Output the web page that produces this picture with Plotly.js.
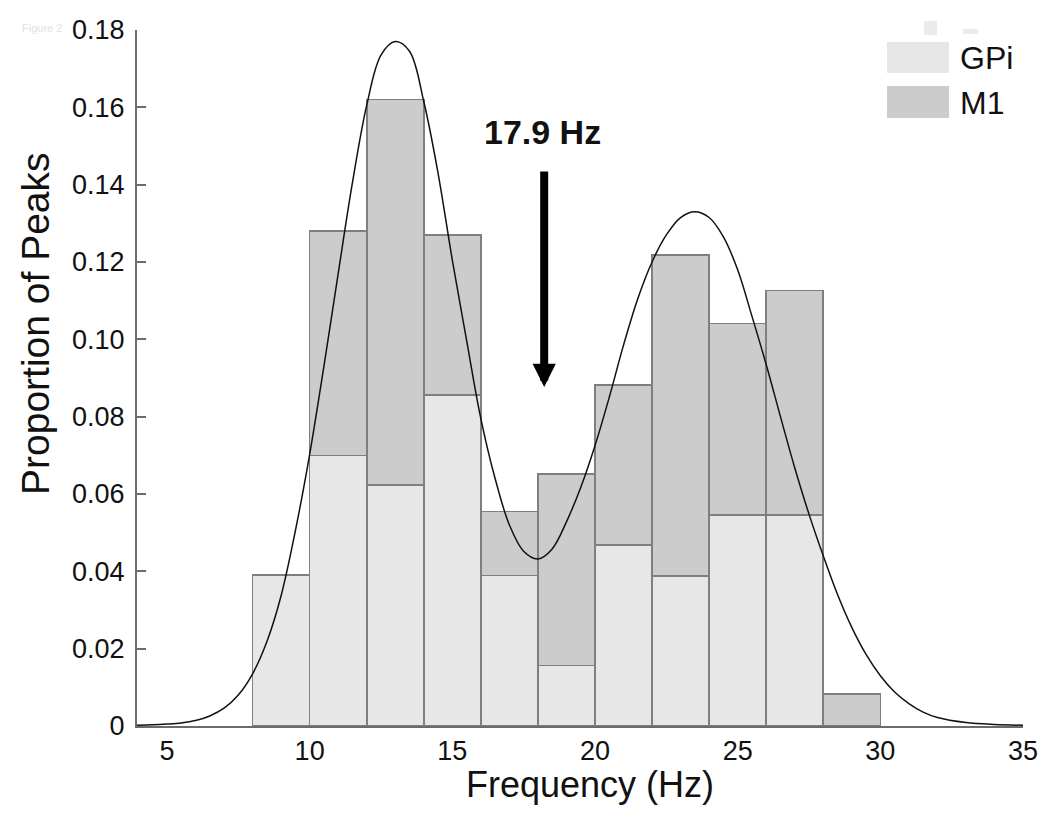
<!DOCTYPE html>
<html>
<head>
<meta charset="utf-8">
<script src="https://cdn.plot.ly/plotly-3.0.1.min.js"></script>
<style>html,body{margin:0;padding:0;background:#fff;}#chart{width:1050px;height:820px;}</style>
</head>
<body>
<div id="chart"></div>
<script>
// Histogram bins (bin centres, 2 Hz wide)
const binCenters = [9, 11, 13, 15, 17, 19, 21, 23, 25, 27, 29];
// Stacked proportions
const gpiValues = [0.039, 0.070, 0.0623, 0.0856, 0.0389, 0.0156, 0.0468, 0.0388, 0.0546, 0.0546, 0];
const m1Values  = [0, 0.058, 0.0997, 0.0414, 0.0166, 0.0496, 0.0414, 0.083, 0.0495, 0.058, 0.0083];

// Fitted density curve
const curveX = [3.95, 4.5, 5.0, 5.5, 6.0, 6.5, 7.0, 7.5, 8.0, 8.5, 9.0, 9.5, 10.0, 10.5, 11.0, 11.5, 12.0, 12.5, 13.0, 13.5, 14.0, 14.5, 15.0, 15.5, 16.0, 16.5, 17.0, 17.5, 18.0, 18.5, 19.0, 19.5, 20.0, 20.5, 21.0, 21.5, 22.0, 22.5, 23.0, 23.5, 24.0, 24.5, 25.0, 25.5, 26.0, 26.5, 27.0, 27.5, 28.0, 28.5, 29.0, 29.5, 30.0, 30.5, 31.0, 31.5, 32.0, 33.0, 34.0, 35.0];
const curveY = [0.0002, 0.0003, 0.0005, 0.0008, 0.0014, 0.0026, 0.0046, 0.0080, 0.0135, 0.0218, 0.0337, 0.0505, 0.0702, 0.0930, 0.1170, 0.1405, 0.1605, 0.1735, 0.1770, 0.1745, 0.1615, 0.1430, 0.1205, 0.0998, 0.0795, 0.0640, 0.0520, 0.0452, 0.0432, 0.0458, 0.0528, 0.0617, 0.0725, 0.0850, 0.0985, 0.1105, 0.1200, 0.1270, 0.1315, 0.1330, 0.1315, 0.1265, 0.1180, 0.1060, 0.0935, 0.0800, 0.0668, 0.0548, 0.0440, 0.0340, 0.0255, 0.0185, 0.0130, 0.0088, 0.0058, 0.0036, 0.0022, 0.0009, 0.0004, 0.0002];

// Axis ticks
const xTickVals = [5, 10, 15, 20, 25, 30, 35];
const yTickVals = [0, 0.02, 0.04, 0.06, 0.08, 0.10, 0.12, 0.14, 0.16, 0.18];
const yTickText = ['0', '0.02', '0.04', '0.06', '0.08', '0.10', '0.12', '0.14', '0.16', '0.18'];

// Annotation
const peakSplitHz = 17.9;
const legendNames = ['GPi', 'M1'];

const FONT = 'Liberation Sans, Arial, Helvetica, sans-serif';
const gpiColor = '#e6e7e6';
const m1Color = '#cccccc';
const edge = '#7f7f7f';

const traces = [
  {type: 'bar', name: legendNames[0], x: binCenters, y: gpiValues,
   marker: {color: gpiColor, line: {color: edge, width: 1.6}}, hoverinfo: 'x+y'},
  {type: 'bar', name: legendNames[1], x: binCenters, y: m1Values,
   marker: {color: m1Color, line: {color: edge, width: 1.6}}, hoverinfo: 'x+y'},
  {type: 'scatter', mode: 'lines', x: curveX, y: curveY, name: 'fit',
   line: {color: '#111111', width: 1.5, shape: 'spline', smoothing: 1}}
];

// Plot area in pixels: left 137, right 1023, top 30, bottom 726
const L = 137, R = 1023, T = 30, B = 726;
const px = v => (v - L) / (R - L);
const py = v => (B - v) / (B - T);

const layout = {
  width: 1050, height: 820,
  margin: {l: L, r: 1050 - R, t: T, b: 820 - B, pad: 0},
  paper_bgcolor: '#ffffff', plot_bgcolor: '#ffffff',
  barmode: 'stack', bargap: 0,
  showlegend: false,
  font: {family: FONT, color: '#111111'},
  xaxis: {
    range: [3.95, 35.0], tickvals: xTickVals, ticks: '', showgrid: false, zeroline: false,
    showline: true, linecolor: '#6b6b6b', linewidth: 2,
    tickfont: {size: 27, family: FONT, color: '#111'}
  },
  yaxis: {
    range: [0, 0.18], tickvals: yTickVals, ticktext: yTickText,
    ticks: 'inside', ticklen: 9, tickwidth: 2, tickcolor: '#6b6b6b',
    showgrid: false, zeroline: false, showline: true, linecolor: '#6b6b6b', linewidth: 2,
    tickfont: {size: 27, family: FONT, color: '#111'}, ticklabelstandoff: 5
  },
  shapes: [
    {type: 'rect', xref: 'paper', yref: 'paper', x0: px(887), x1: px(949), y0: py(73), y1: py(42),
     fillcolor: gpiColor, line: {width: 0}},
    {type: 'rect', xref: 'paper', yref: 'paper', x0: px(887), x1: px(949), y0: py(118), y1: py(86),
     fillcolor: m1Color, line: {width: 0}},
    {type: 'rect', xref: 'paper', yref: 'paper', x0: px(924), x1: px(937), y0: py(35), y1: py(21),
     fillcolor: '#ebebeb', line: {width: 0}, layer: 'below'},
    {type: 'rect', xref: 'paper', yref: 'paper', x0: px(963), x1: px(978), y0: py(34), y1: py(29),
     fillcolor: '#ebebeb', line: {width: 0}, layer: 'below'}
  ],
  annotations: [
    {xref: 'paper', yref: 'paper', x: px(958), y: py(58), xanchor: 'left', yanchor: 'middle',
     text: legendNames[0], showarrow: false, font: {size: 32, family: FONT, color: '#111'}},
    {xref: 'paper', yref: 'paper', x: px(958), y: py(103), xanchor: 'left', yanchor: 'middle',
     text: legendNames[1], showarrow: false, font: {size: 32, family: FONT, color: '#111'}},
    {xref: 'paper', yref: 'paper', x: px(35), y: py(324), xanchor: 'center', yanchor: 'middle',
     text: 'Proportion of Peaks', textangle: -90, showarrow: false, font: {size: 39, family: FONT, color: '#111'}},
    {xref: 'paper', yref: 'paper', x: px(590), y: py(784), xanchor: 'center', yanchor: 'middle',
     text: 'Frequency (Hz)', showarrow: false, font: {size: 36, family: FONT, color: '#111'}},
    {xref: 'paper', yref: 'paper', x: px(542), y: py(132), xanchor: 'center', yanchor: 'middle',
     text: '<b>' + peakSplitHz + ' Hz</b>', showarrow: false, font: {size: 34, family: FONT, color: '#111'}},
    {xref: 'x', yref: 'y', axref: 'x', ayref: 'y', x: 18.22, y: 0.0877, ax: 18.22, ay: 0.1438,
     text: '', showarrow: true, arrowhead: 2, arrowwidth: 8, arrowsize: 0.58, arrowcolor: '#000000', standoff: 0},
    {xref: 'paper', yref: 'paper', x: px(20), y: py(28), xanchor: 'left', yanchor: 'middle',
     text: 'Figure 2', showarrow: false, font: {size: 11, family: FONT, color: '#e2e2e2'}}
  ]
};

Plotly.newPlot('chart', traces, layout, {displayModeBar: false, staticPlot: true});
</script>
</body>
</html>
